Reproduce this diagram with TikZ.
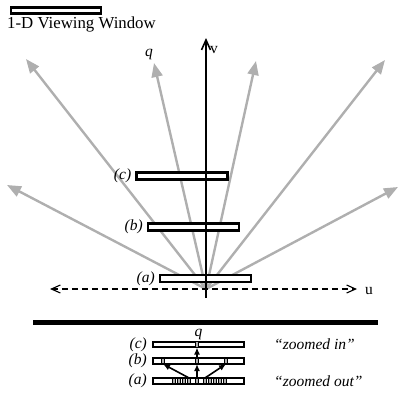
\documentclass[tikz,border=0pt]{standalone}
\usepackage{fontspec}
\setmainfont{Liberation Serif}
\usetikzlibrary{arrows.meta,positioning}
\definecolor{raygray}{RGB}{175,175,175}

\begin{document}
\begin{tikzpicture}[x=1pt,y=-1pt,
    font=\fontsize{15.5}{17}\selectfont,
    win/.style={draw,fill=white,line width=2.2pt,minimum width=91pt,minimum height=7pt,inner sep=0pt},
    smallwin/.style={win,minimum height=5.5pt,line width=2pt},
    cell/.style={draw=black,fill=raygray,line width=0.6pt,minimum width=3pt,minimum height=5.5pt,inner sep=0pt},
    ray/.style={raygray,line width=2.4pt,-{Triangle[length=14pt,width=11pt]}},
    tag/.style={font=\fontsize{15.5}{17}\selectfont\itshape,inner sep=1pt},
    zoomarrow/.style={line width=1.6pt,-{Latex[length=7pt,width=6pt]}}]
  \useasboundingbox (0,0) rectangle (400,399);

  % legend
  \node[win,minimum width=90pt,minimum height=6pt] (legend) at (56,10.5) {};
  \node[anchor=base west,inner sep=0pt,font=\fontsize{16.8}{18}\selectfont] (legendtext) at (7,28) {1-D Viewing Window};

  % view directions
  \coordinate (o) at (206,289);
  \coordinate (d1) at (26,59);
  \coordinate (dq) at (154,63);
  \coordinate (d3) at (256,61);
  \coordinate (d4) at (385,60);
  \coordinate (d5) at (7,185);
  \coordinate (d6) at (398,187);
  \foreach \d in {d1,dq,d3,d4,d5,d6}
    \draw[ray] (o) -- (\d);
  \node[tag] (qlabel) at (149,54) {q};

  % windows at three zoom levels
  \node[win] (wc) at (182,176) {};
  \node[win] (wb) at (193.5,227) {};
  \node[win] (wa) at (205.5,278.5) {};
  \node[tag,left=3pt of wc] (lc) {(c)};
  \node[tag,left=3pt of wb] (lb) {(b)};
  \node[tag,left=3pt of wa] (la) {(a)};

  % axes
  \coordinate (vbot) at (206,298);
  \coordinate (vtop) at (206,38);
  \draw[line width=1.6pt,-{Straight Barb[length=10pt,width=9pt,line width=1.6pt]}] (vbot) -- (vtop);
  \node[anchor=west,inner sep=1pt] (vlabel) at (209,50) {v};
  \coordinate (uleft) at (50,289);
  \coordinate (uright) at (357,289);
  \draw[dash pattern=on 6pt off 4pt,line width=1.1pt,{Straight Barb[length=9pt,width=8pt]}-{Straight Barb[length=9pt,width=8pt]}] (uleft) -- (uright);
  \node[anchor=west,inner sep=1pt] (ulabel) at (364,291) {u};

  % divider
  \coordinate (divl) at (33,322);
  \coordinate (divr) at (378,322);
  \draw[line width=5pt] (divl) -- (divr);

  % 1-D windows seen from the side
  \node[smallwin] (sc) at (198.5,344.5) {};
  \node[smallwin] (sb) at (198.5,361) {};
  \node[smallwin] (sa) at (198.5,381) {};
  \node[tag,left=4pt of sc] (slc) {(c)};
  \node[tag,left=4pt of sb] (slb) {(b)};
  \node[tag,left=4pt of sa] (sla) {(a)};
  \node[tag,above=0pt of sc] (sq) {q};

  \node[cell] (cq) at (197,344.5) {};
  \node[cell] (bl) at (163,361) {};
  \node[cell] (bq) at (197,361) {};
  \node[cell] (br) at (226,361) {};
  \foreach \x [count=\i] in {174,179,184,189,197,205,210,215,220,225}
    \node[cell,minimum width=2.5pt] (a\i) at (\x,381) {};

  \draw[zoomarrow] (a4.north) -- (bl.south);
  \draw[zoomarrow] (a5.north) -- (bq.south);
  \draw[zoomarrow] (a6.north) -- (br.south);
  \draw[zoomarrow] (bq.north) -- (cq.south);

  \node[tag,anchor=base west,inner sep=0pt] (zin) at (274,349) {``zoomed in''};
  \node[tag,anchor=base west,inner sep=0pt] (zout) at (274,386) {``zoomed out''};
\end{tikzpicture}
\end{document}
